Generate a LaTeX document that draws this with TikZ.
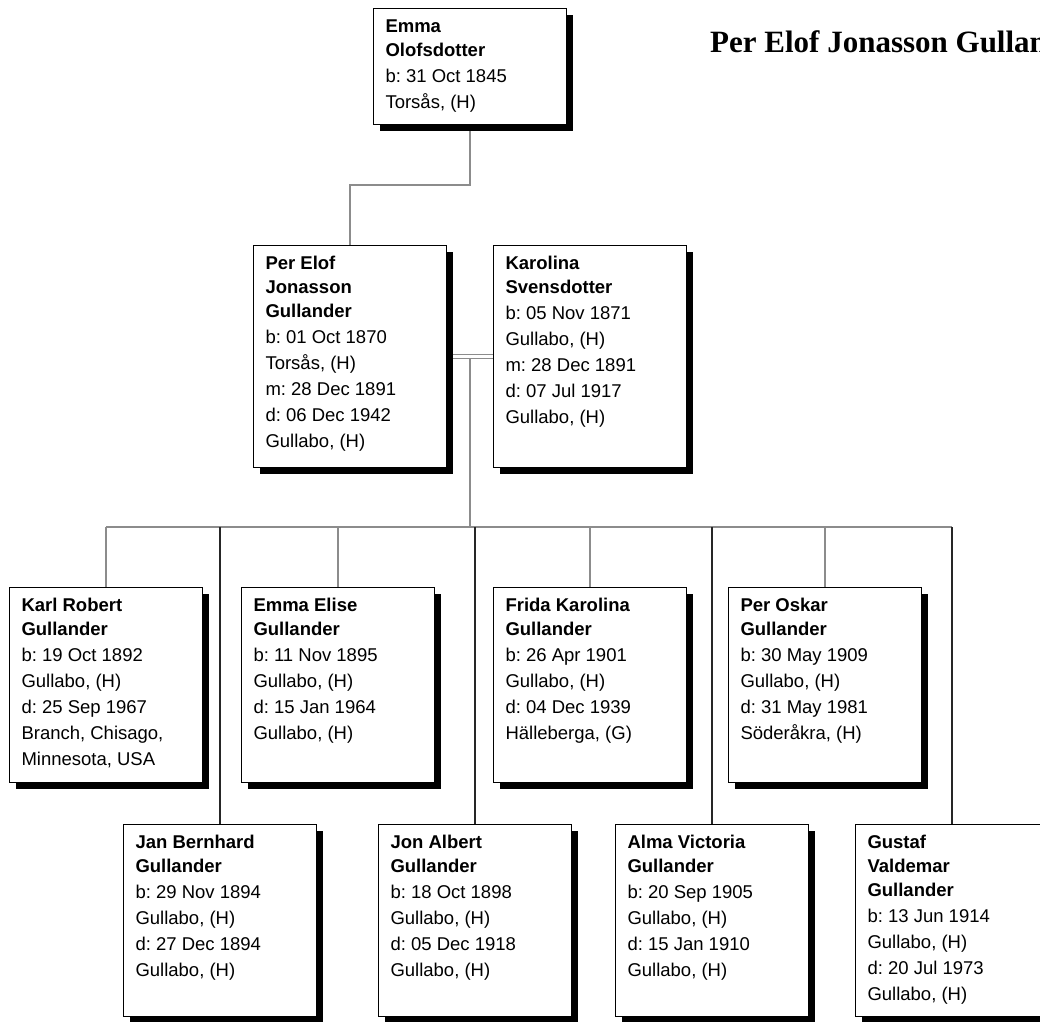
\documentclass[tikz,border=0pt]{standalone}
\usepackage{fontspec}
\setmainfont{Liberation Sans}
\newfontfamily\titlefont{Liberation Serif}
\usetikzlibrary{shadows,backgrounds,calc}
\frenchspacing

\tikzset{
  person/.style={draw, line width=1pt, fill=white, anchor=north west,
    inner xsep=12pt, inner ysep=11pt,
    drop shadow={shadow xshift=6.5pt, shadow yshift=-6.5pt, opacity=1, fill=black},
    font=\fontsize{18.5}{26}\selectfont},
  grayline/.style={draw=black!45, line width=1.2pt},
  darkline/.style={draw=black!85, line width=1.2pt}
}
\newcommand{\card}[2]{\parbox[t][#1][t]{169pt}{\raggedright #2}}

\begin{document}
\begin{tikzpicture}[x=1pt,y=-1pt]
    \useasboundingbox (0,0) rectangle (1040,1021);
    \clip (0,0) rectangle (1040,1021);

    \node[anchor=base west, inner sep=0pt, font=\titlefont\bfseries\fontsize{31}{36}\selectfont] (title) at (710,52) {Per Elof Jonasson Gullander};

    % grandmother
    \node[person] (emma) at (373,8) {\card{94pt}{\textbf{Emma}\\[-2pt]\textbf{Olofsdotter}\\b: 31 Oct 1845\\Torsås, (H)}};

    % couple
    \node[person] (perelof) at (253,245) {\card{200pt}{\textbf{Per Elof}\\[-2pt]\textbf{Jonasson}\\[-2pt]\textbf{Gullander}\\b: 01 Oct 1870\\Torsås, (H)\\m: 28 Dec 1891\\d: 06 Dec 1942\\Gullabo, (H)}};
    \node[person] (karolina) at (493,245) {\card{200pt}{\textbf{Karolina}\\[-2pt]\textbf{Svensdotter}\\b: 05 Nov 1871\\Gullabo, (H)\\m: 28 Dec 1891\\d: 07 Jul 1917\\Gullabo, (H)}};

    % children, upper row
    \node[person] (karl) at (9,587) {\card{173pt}{\textbf{Karl Robert}\\[-2pt]\textbf{Gullander}\\b: 19 Oct 1892\\Gullabo, (H)\\d: 25 Sep 1967\\Branch, Chisago,\\Minnesota, USA}};
    \node[person] (emmaelise) at (241,587) {\card{173pt}{\textbf{Emma Elise}\\[-2pt]\textbf{Gullander}\\b: 11 Nov 1895\\Gullabo, (H)\\d: 15 Jan 1964\\Gullabo, (H)}};
    \node[person] (frida) at (493,587) {\card{173pt}{\textbf{Frida Karolina}\\[-2pt]\textbf{Gullander}\\b: 26 Apr 1901\\Gullabo, (H)\\d: 04 Dec 1939\\Hälleberga, (G)}};
    \node[person] (peroskar) at (728,587) {\card{173pt}{\textbf{Per Oskar}\\[-2pt]\textbf{Gullander}\\b: 30 May 1909\\Gullabo, (H)\\d: 31 May 1981\\Söderåkra, (H)}};

    % children, lower row
    \node[person] (jan) at (123,824) {\card{170pt}{\textbf{Jan Bernhard}\\[-2pt]\textbf{Gullander}\\b: 29 Nov 1894\\Gullabo, (H)\\d: 27 Dec 1894\\Gullabo, (H)}};
    \node[person] (jon) at (378,824) {\card{170pt}{\textbf{Jon Albert}\\[-2pt]\textbf{Gullander}\\b: 18 Oct 1898\\Gullabo, (H)\\d: 05 Dec 1918\\Gullabo, (H)}};
    \node[person] (alma) at (615,824) {\card{170pt}{\textbf{Alma Victoria}\\[-2pt]\textbf{Gullander}\\b: 20 Sep 1905\\Gullabo, (H)\\d: 15 Jan 1910\\Gullabo, (H)}};
    \node[person] (gustaf) at (855,824) {\card{170pt}{\textbf{Gustaf}\\[-2pt]\textbf{Valdemar}\\[-2pt]\textbf{Gullander}\\b: 13 Jun 1914\\Gullabo, (H)\\d: 20 Jul 1973\\Gullabo, (H)}};

    \begin{scope}[on background layer]
    \coordinate (wed) at ($(perelof.east)!0.5!(karolina.west)$);
    \coordinate (bar) at (0,527);
    \draw[grayline] (emma.south) -- ++(0,60) -| (perelof.north);
    \draw[grayline, double=white, double distance=2.6pt, line width=1pt] (perelof.east) -- (karolina.west);
    \draw[grayline] ([yshift=-2pt]wed) -- (wed |- bar);
    \draw[grayline] (karl.north |- bar) -- (gustaf.north |- bar);
    \foreach \kid in {karl,emmaelise,frida,peroskar}
        \draw[grayline] (\kid.north |- bar) -- (\kid.north);
    \foreach \kid in {jan,jon,alma,gustaf}
        \draw[darkline] (\kid.north |- bar) -- (\kid.north);
    \end{scope}
\end{tikzpicture}
\end{document}
